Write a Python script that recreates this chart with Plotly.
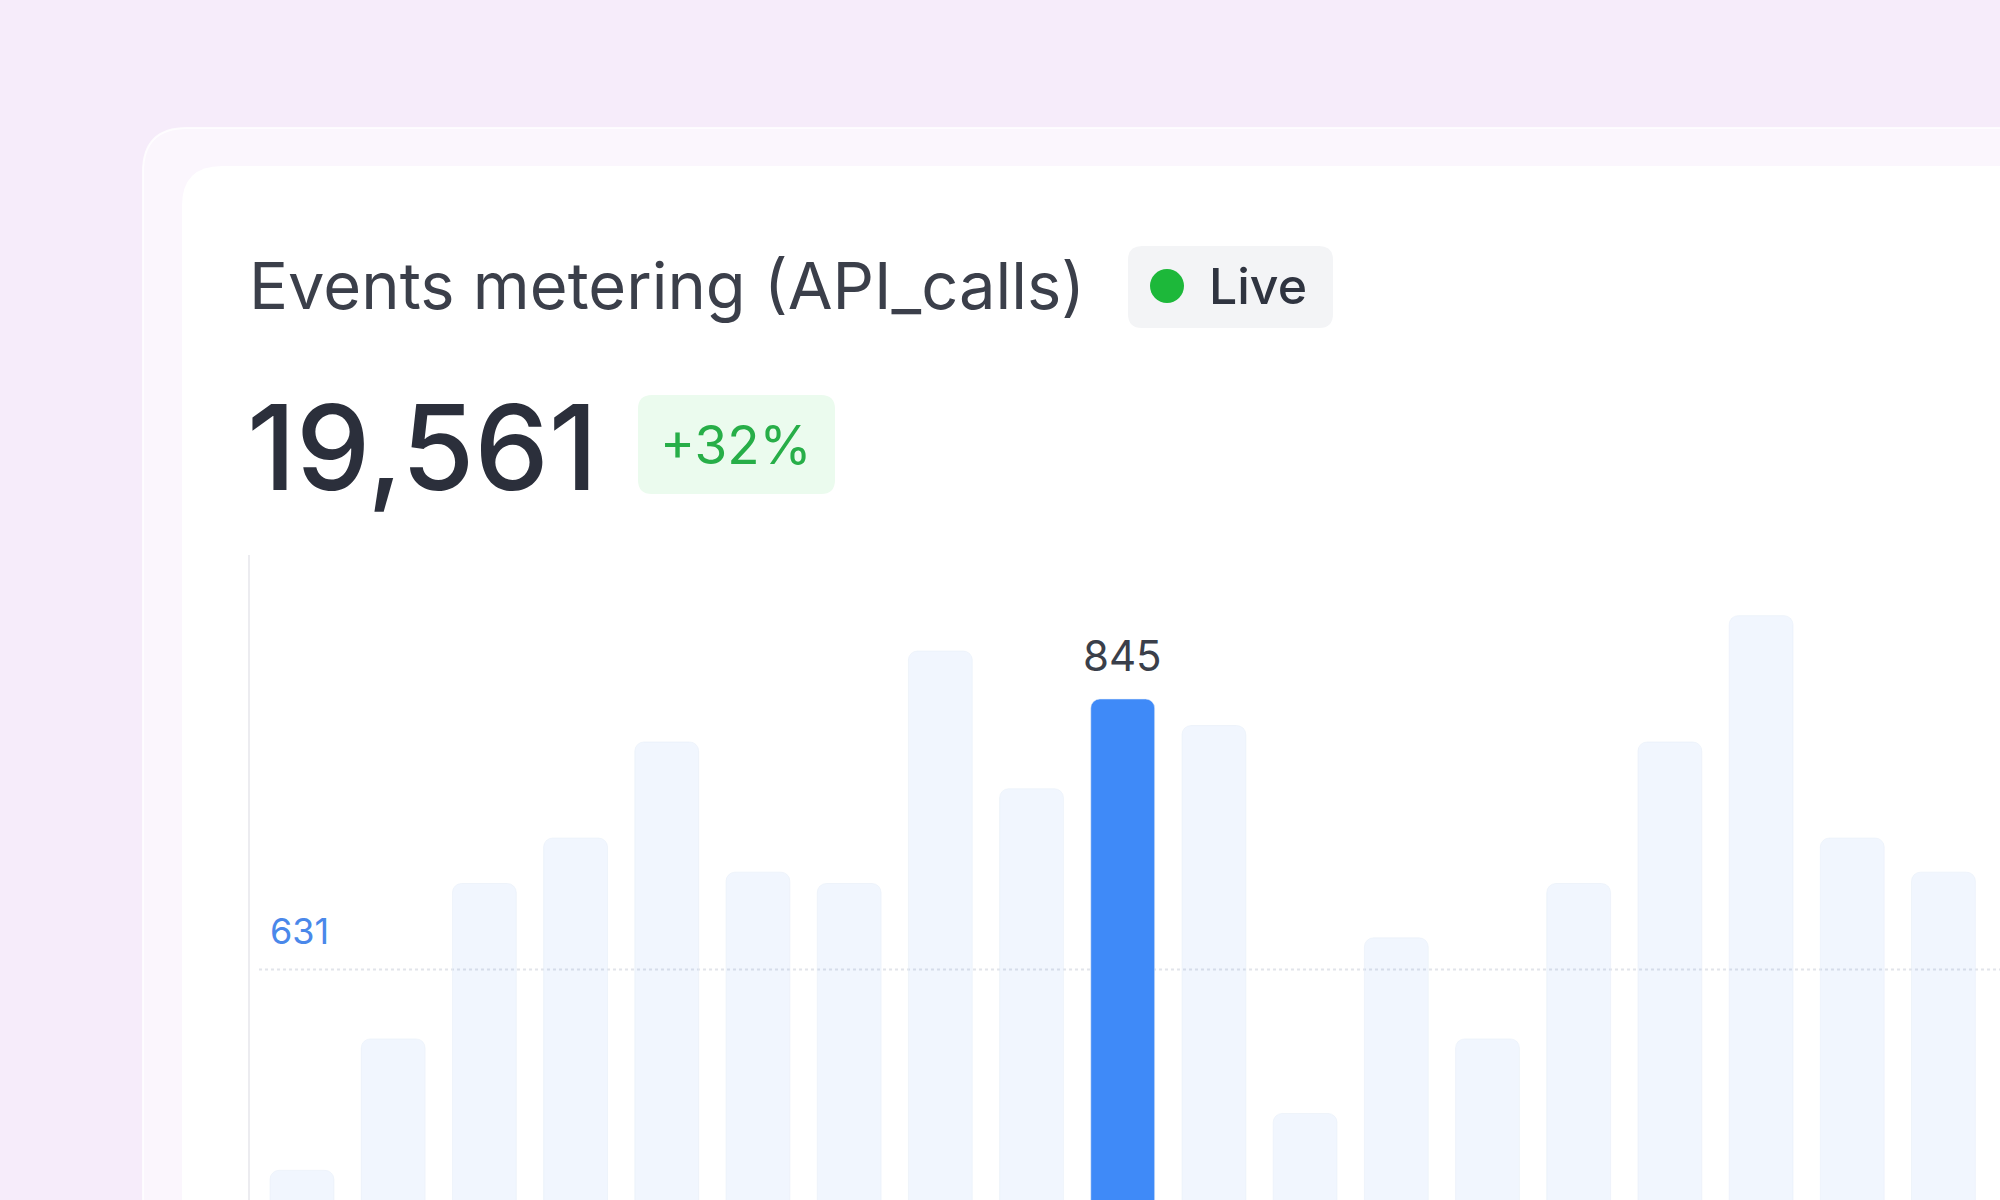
import plotly.graph_objects as go

# daily API call counts (visible part of the chart)
days = list(range(1, 20))
calls = [472, 576, 699, 735, 811, 708, 699, 883, 774, 845,
         824, 517, 656, 576, 699, 811, 911, 735, 708]
peak_day = 10
average = 631
total = "19,561"
change = "+32%"

W, H = 2000, 1200
FONT = "Inter"


def px(x):
    return x / W


def py(y):
    return 1 - y / H


def card(x0, y0, r, fill, line=None):
    # rounded top-left card running off the right and bottom edges
    p = (f"M {px(x0)},{py(H + 50)} L {px(x0)},{py(y0 + r)} "
         f"Q {px(x0)},{py(y0)} {px(x0 + r)},{py(y0)} "
         f"L {px(W + 50)},{py(y0)} L {px(W + 50)},{py(H + 50)} Z")
    return dict(type="path", path=p, xref="paper", yref="paper", fillcolor=fill,
                line=dict(width=line[1] if line else 0, color=line[0] if line else fill),
                layer="below")


def pill(x0, y0, x1, y1, r, fill):
    p = (f"M {px(x0 + r)},{py(y0)} L {px(x1 - r)},{py(y0)} Q {px(x1)},{py(y0)} {px(x1)},{py(y0 + r)} "
         f"L {px(x1)},{py(y1 - r)} Q {px(x1)},{py(y1)} {px(x1 - r)},{py(y1)} "
         f"L {px(x0 + r)},{py(y1)} Q {px(x0)},{py(y1)} {px(x0)},{py(y1 - r)} "
         f"L {px(x0)},{py(y0 + r)} Q {px(x0)},{py(y0)} {px(x0 + r)},{py(y0)} Z")
    return dict(type="path", path=p, xref="paper", yref="paper", fillcolor=fill,
                line=dict(width=0), layer="below")


colors = ["#3f8af8" if d == peak_day else "rgba(60,130,246,0.07)" for d in days]

fig = go.Figure(go.Bar(x=days, y=calls, marker=dict(color=colors, cornerradius=9),
                       hoverinfo="skip"))

shapes = [
    card(143, 128, 44, "rgba(255,255,255,0.55)", ("rgba(255,255,255,0.8)", 2)),
    card(182, 166, 40, "#ffffff"),
    pill(1128, 246, 1333, 328, 14, "#f3f4f6"),
    pill(638, 395, 835, 494, 14, "#ebfbee"),
    dict(type="circle", xref="paper", yref="paper",
         x0=px(1150), x1=px(1184), y0=py(269), y1=py(303),
         fillcolor="#1db83a", line=dict(width=0)),
    # average line sits behind the bars
    dict(type="line", xref="paper", yref="y", x0=px(259), x1=1, y0=average, y1=average,
         line=dict(color="#e1e4ea", width=2, dash="dot"), layer="below"),
]

annotations = [
    dict(text="Events metering (API_calls)", xref="paper", yref="paper",
         x=px(247), y=py(286), xanchor="left", yanchor="middle", showarrow=False,
         font=dict(family=FONT, size=65, color="#3b3f4a")),
    dict(text="Live", xref="paper", yref="paper", x=px(1207), y=py(286),
         xanchor="left", yanchor="middle", showarrow=False,
         font=dict(family=FONT, size=50, color="#2f3440", weight=500)),
    dict(text=total, xref="paper", yref="paper", x=px(245), y=py(447),
         xanchor="left", yanchor="middle", showarrow=False,
         font=dict(family=FONT, size=118, color="#2b2f3b", weight=500)),
    dict(text=change, xref="paper", yref="paper", x=px(736), y=py(445),
         xanchor="center", yanchor="middle", showarrow=False,
         font=dict(family=FONT, size=53, color="#27ae48")),
    dict(text=str(calls[days.index(peak_day)]), x=peak_day, y=calls[days.index(peak_day)],
         xref="x", yref="y", yanchor="bottom", yshift=16, showarrow=False,
         font=dict(family=FONT, size=42, color="#3a3f4a")),
    dict(text=str(average), xref="paper", yref="y", x=px(268), y=average,
         xanchor="left", yanchor="bottom", yshift=14, showarrow=False,
         font=dict(family=FONT, size=36, color="#4a88ea")),
]

fig.update_layout(
    width=W, height=H,
    margin=dict(l=0, r=0, t=0, b=0),
    paper_bgcolor="#f6ecfa",
    plot_bgcolor="rgba(0,0,0,0)",
    showlegend=False,
    bargap=0.30,
    shapes=shapes,
    annotations=annotations,
    xaxis=dict(domain=[px(250), 1], range=[0.43, 19.62], showticklabels=False,
               showgrid=False, zeroline=False, ticks=""),
    yaxis=dict(domain=[0, py(555)], range=[448.5, 959], showticklabels=False,
               showgrid=False, zeroline=False, ticks="",
               showline=True, linecolor="#ececf0", linewidth=2),
)

fig.write_html("out.html", config={"displayModeBar": False},
               post_script="document.body.style.margin='0';document.body.style.overflow='hidden';")
